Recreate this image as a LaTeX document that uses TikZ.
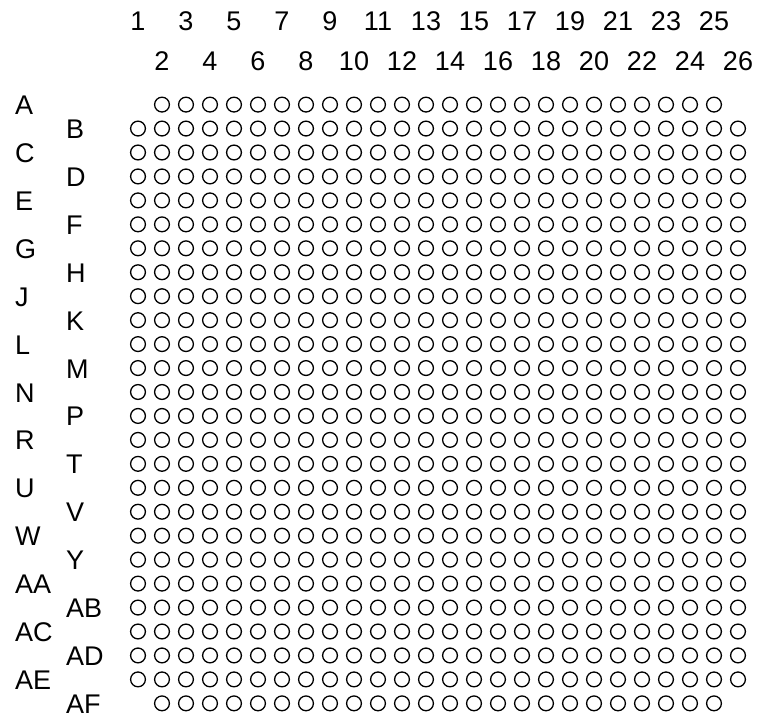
\documentclass[tikz,border=0pt]{standalone}
\usepackage{fontspec}
\setmainfont{Liberation Sans}
\begin{document}
\begin{tikzpicture}[x=1pt,y=-1pt,
  ball/.style={draw=black,line width=1.3pt},
  lbl/.style={inner sep=0pt,font=\fontsize{27}{27}\selectfont}]
\useasboundingbox (0,0) rectangle (771,720);
% column labels
\foreach \c in {1,...,26}{
  \pgfmathsetmacro{\cx}{138+24*(\c-1)}
  \ifodd\c
    \node[lbl,anchor=base] (col\c) at (\cx,30) {\c};
  \else
    \node[lbl,anchor=base] (col\c) at (\cx,70) {\c};
  \fi
}
% row labels
\foreach \r/\name in {1/A,2/B,3/C,4/D,5/E,6/F,7/G,8/H,9/J,10/K,11/L,12/M,13/N,14/P,15/R,16/T,17/U,18/V,19/W,20/Y,21/AA,22/AB,23/AC,24/AD,25/AE,26/AF}{
  \pgfmathsetmacro{\ry}{104.6+23.95*(\r-1)+10}
  \ifodd\r
    \node[lbl,anchor=base west] (row\name) at (15,\ry) {\name};
  \else
    \node[lbl,anchor=base west] (row\name) at (66,\ry) {\name};
  \fi
}
% balls
\foreach \r in {1,...,26}{
  \pgfmathsetmacro{\ry}{104.6+23.95*(\r-1)}
  \foreach \c in {1,...,26}{
    \pgfmathsetmacro{\cx}{138+24*(\c-1)}
    \pgfmathtruncatemacro{\skip}{((\r==1 || \r==26) && (\c==1 || \c==26)) ? 1 : 0}
    \ifnum\skip=0
      \draw[ball] (\cx,\ry) circle[radius=7.4];
    \fi
  }
}
\end{tikzpicture}
\end{document}
